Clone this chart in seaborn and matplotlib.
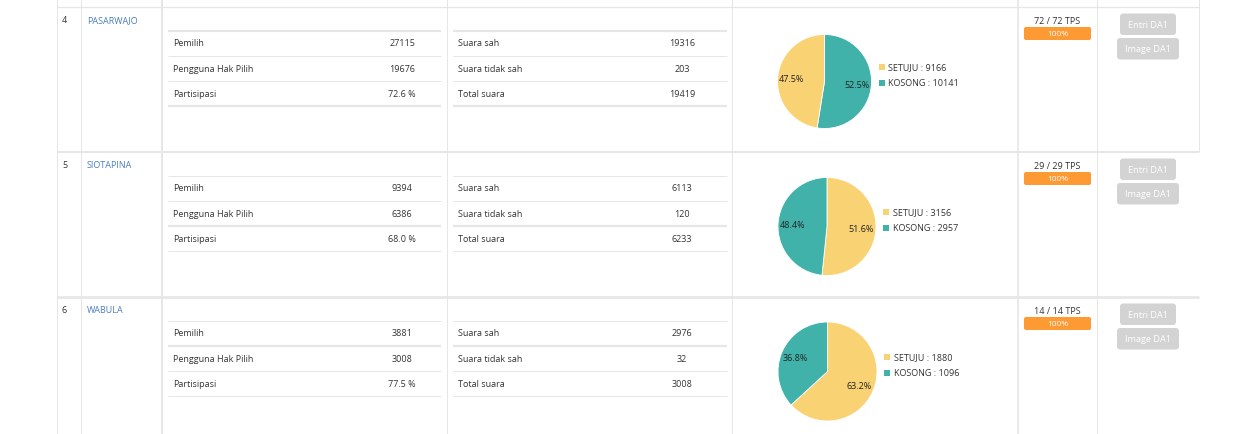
import matplotlib
matplotlib.use("Agg")
import matplotlib.pyplot as plt
from matplotlib.patches import FancyBboxPatch, Rectangle
import seaborn as sns
import pandas as pd

# ---------------- data ----------------
row_numbers = ["4", "5", "6"]
districts = ["PASARWAJO", "SIOTAPINA", "WABULA"]
pemilih = [27115, 9394, 3881]
pengguna_hak_pilih = [19676, 6386, 3008]
partisipasi = [72.6, 68.0, 77.5]
suara_sah = [19316, 6113, 2976]
suara_tidak_sah = [203, 120, 32]
total_suara = [19419, 6233, 3008]
setuju = [9166, 3156, 1880]
kosong = [10141, 2957, 1096]
tps_masuk = [72, 29, 14]
tps_total = [72, 29, 14]
left_labels = ["Pemilih", "Pengguna Hak Pilih", "Partisipasi"]
right_labels = ["Suara sah", "Suara tidak sah", "Total suara"]
series_names = ["SETUJU", "KOSONG"]

df = pd.DataFrame({
    "no": row_numbers, "district": districts, "pemilih": pemilih,
    "pengguna": pengguna_hak_pilih, "partisipasi": partisipasi,
    "sah": suara_sah, "tidak_sah": suara_tidak_sah, "total": total_suara,
    "setuju": setuju, "kosong": kosong, "tps_in": tps_masuk, "tps_all": tps_total,
})

# ---------------- style ----------------
sns.set_theme(style="white")
plt.rcParams["font.family"] = ["Open Sans", "DejaVu Sans"]
colors = dict(zip(series_names, sns.color_palette(["#F9D274", "#41B2AA"])))

W, H = 1252, 435
fig = plt.figure(figsize=(W / 100, H / 100), dpi=100)
fig.patch.set_facecolor("white")
ax = fig.add_axes([0, 0, 1, 1])
ax.set_xlim(0, W)
ax.set_ylim(H, 0)
ax.axis("off")

LINE = "#E6E6E6"
TXT = "#333333"
BLUE = "#4A7DBF"
FS = 6.5
PX = 0.72  # points per pixel


def hline(x0, x1, y, w=1.0, c=LINE):
    ax.plot([x0, x1], [y, y], color=c, lw=w * PX, solid_capstyle="butt", zorder=1)


def vline(x, y0, y1, w=1.0, c=LINE):
    ax.plot([x, x], [y0, y1], color=c, lw=w * PX, solid_capstyle="butt", zorder=1)


row_tops = [8, 153, 298]
sep_widths = [1.3, 2.0, 2.6]
inner_offsets = [23.5, 48.5, 73.5, 99]
inner_widths = [[2.2, 1, 1, 2.2], [1, 1, 2.2, 1], [1, 2.2, 1, 1]]
pie_radius = [47, 49, 49.5]
pie_cx = [824.5, 827, 827.5]

# outer grid
for x, w in [(57, 1), (81, 1), (161.5, 2), (447, 1), (732, 1), (1018, 1.6), (1096.5, 1)]:
    vline(x, 0, H, w)
vline(1198.5, 0, 153, 1)
for y, w in zip(row_tops, sep_widths):
    hline(57, 1198.5, y, w)

for i, r in df.iterrows():
    top = row_tops[i]
    ax.text(62, top + 12.5, r["no"], fontsize=FS, color=TXT, va="center", ha="left")
    ax.text(87, top + 12.5, r["district"], fontsize=FS, color=BLUE, va="center", ha="left")

    # inner tables
    for off, w in zip(inner_offsets, inner_widths[i]):
        hline(168, 441, top + off, w)
        hline(453, 727, top + off, w)
    left_vals = [f"{r['pemilih']}", f"{r['pengguna']}", f"{r['partisipasi']:.1f} %"]
    right_vals = [f"{r['sah']}", f"{r['tidak_sah']}", f"{r['total']}"]
    for k in range(3):
        yy = top + 36 + 25.3 * k
        ax.text(173, yy, left_labels[k], fontsize=FS, color=TXT, va="center", ha="left")
        ax.text(402, yy, left_vals[k], fontsize=FS, color=TXT, va="center", ha="center")
        ax.text(458, yy, right_labels[k], fontsize=FS, color=TXT, va="center", ha="left")
        ax.text(682, yy, right_vals[k], fontsize=FS, color=TXT, va="center", ha="center")

    # pie chart
    vals = pd.Series({"SETUJU": r["setuju"], "KOSONG": r["kosong"]}).sort_values(ascending=False)
    rad = pie_radius[i]
    cx, cy = pie_cx[i], top + 74.5
    pax = fig.add_axes([(cx - rad) / W, 1 - (cy + rad) / H, 2 * rad / W, 2 * rad / H])
    pax.pie(vals.values, colors=[colors[n] for n in vals.index], startangle=90,
            counterclock=False, radius=1, autopct="%.1f%%", pctdistance=0.7,
            wedgeprops=dict(edgecolor="white", linewidth=0.6),
            textprops=dict(fontsize=FS, color="#222222"))
    pax.set_xlim(-1, 1)
    pax.set_ylim(-1, 1)
    pax.set_aspect("auto")
    pax.axis("off")

    # legend
    lx = cx + rad + 7
    for k, name in enumerate(series_names):
        ly = top + 59.5 + 16.5 * k
        ax.add_patch(Rectangle((lx, ly - 3), 6, 6, facecolor=colors[name], edgecolor="none", zorder=2))
        ax.text(lx + 10, ly, f"{name} : {r[name.lower()]}", fontsize=FS, color=TXT,
                va="center", ha="left")

    # TPS progress
    ax.text(1057.5, top + 13.5, f"{r['tps_in']} / {r['tps_all']} TPS", fontsize=FS,
            color=TXT, va="center", ha="center")
    pct = r["tps_in"] / r["tps_all"] * 100
    bar_w = 67 * pct / 100
    ax.add_patch(FancyBboxPatch((1024, top + 20), bar_w, 13, boxstyle="round,pad=0,rounding_size=2",
                                facecolor="#FE9A33", edgecolor="none", zorder=2))
    ax.text(1024 + 33.5, top + 26.8, f"{pct:.0f}%", fontsize=6, color="white",
            va="center", ha="center", zorder=3)

    # buttons
    for (bx, bw, by, bh, label) in [(1120, 56, top + 6.5, 21.5, "Entri DA1"),
                                    (1117, 62, top + 31, 21.5, "Image DA1")]:
        ax.add_patch(FancyBboxPatch((bx, by), bw, bh, boxstyle="round,pad=0,rounding_size=3",
                                    facecolor="#D3D3D3", edgecolor="none", zorder=2))
        ax.text(bx + bw / 2, by + bh / 2, label, fontsize=6.6, color="white",
                va="center", ha="center", zorder=3)

fig.savefig("out.png", dpi=100, facecolor="white")
